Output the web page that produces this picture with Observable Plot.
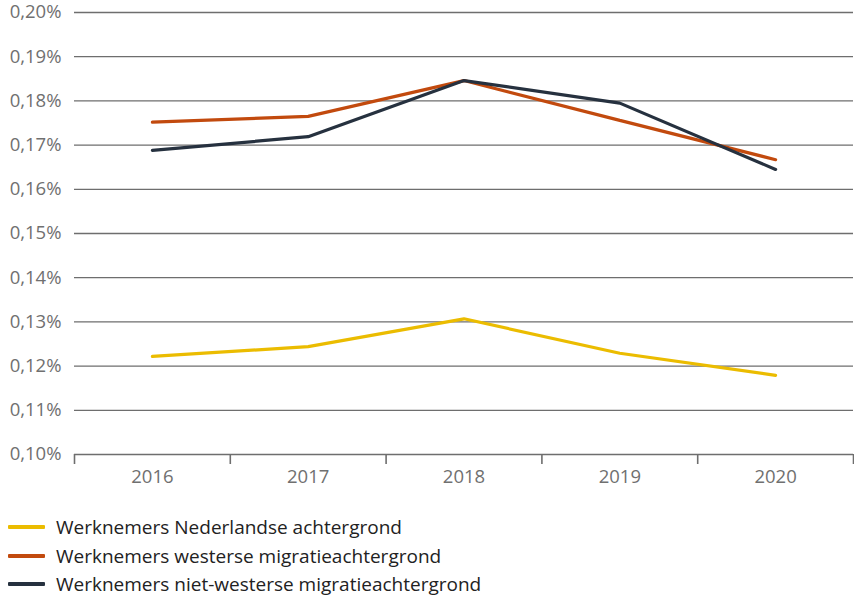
<!DOCTYPE html>
<html>
<head>
<meta charset="utf-8">
<script src="https://cdn.jsdelivr.net/npm/d3@7"></script>
<script src="https://cdn.jsdelivr.net/npm/@observablehq/plot@0.6"></script>
<style>
  body { margin: 0; background: #fff; font-family: "Open Sans", sans-serif; }
  #chart { margin-top: -4px; }
  #chart svg { display: block; overflow: visible; }
  #legend { margin-top: 23px; margin-left: 8px; }
  .item { display: flex; align-items: center; height: 28.5px; font-size: 19px; color: #222; }
  .sw { width: 37px; height: 4px; margin-right: 11px; border-radius: 1px; }
</style>
</head>
<body>
<div id="chart"></div>
<div id="legend"></div>
<script>
const years = [2016, 2017, 2018, 2019, 2020];
const seriesNames = [
  "Werknemers Nederlandse achtergrond",
  "Werknemers westerse migratieachtergrond",
  "Werknemers niet-westerse migratieachtergrond"
];
const nederlands = [0.1222, 0.1244, 0.1307, 0.1229, 0.1179];
const westers = [0.1752, 0.1765, 0.1846, 0.1756, 0.1667];
const nietWesters = [0.1688, 0.1719, 0.1846, 0.1795, 0.1645];
const colors = ["#ebbc00", "#c24a0e", "#26313f"];
const yTicks = [0.10, 0.11, 0.12, 0.13, 0.14, 0.15, 0.16, 0.17, 0.18, 0.19, 0.20];

const allSeries = [nederlands, westers, nietWesters];
const data = allSeries.flatMap((vals, i) =>
  vals.map((v, j) => ({ year: years[j], value: v, series: seriesNames[i] }))
);
const boundaries = years.map(y => y - 0.5).concat([years[years.length - 1] + 0.5]);
const fmt = d => d.toFixed(2).replace(".", ",") + "%";

const chart = Plot.plot({
  width: 854,
  height: 494,
  marginLeft: 74,
  marginRight: 1,
  marginTop: 16,
  marginBottom: 36,
  style: { fontFamily: "Open Sans, sans-serif", fontSize: "18.5px", color: "#707070", background: "#fff" },
  x: { domain: [boundaries[0], boundaries[boundaries.length - 1]] },
  y: { domain: [0.10, 0.20] },
  color: { domain: seriesNames, range: colors },
  marks: [
    Plot.gridY(yTicks.slice(1), { stroke: "#6e6e6e", strokeOpacity: 1, strokeWidth: 1.3 }),
    Plot.ruleY([0.10], { stroke: "#6e6e6e", strokeWidth: 1.6 }),
    Plot.axisY(yTicks, { tickSize: 0, tickPadding: 13, tickFormat: fmt, label: null, fill: "#707070", fontSize: 18.5 }),
    Plot.axisX(boundaries, { tickSize: 10, tickFormat: () => "", stroke: "#6e6e6e", strokeWidth: 1.6, label: null }),
    Plot.axisX(years, { tickSize: 0, tickPadding: 15, tickFormat: d => String(d), label: null, fill: "#707070", fontSize: 18.5 }),
    Plot.line(data, { x: "year", y: "value", z: "series", stroke: "series", strokeWidth: 3.2, strokeLinejoin: "miter" })
  ]
});
document.getElementById("chart").appendChild(chart);

const legend = document.getElementById("legend");
seriesNames.forEach((name, i) => {
  const row = document.createElement("div");
  row.className = "item";
  const sw = document.createElement("span");
  sw.className = "sw";
  sw.style.background = colors[i];
  const t = document.createElement("span");
  t.textContent = name;
  row.appendChild(sw);
  row.appendChild(t);
  legend.appendChild(row);
});
</script>
</body>
</html>
